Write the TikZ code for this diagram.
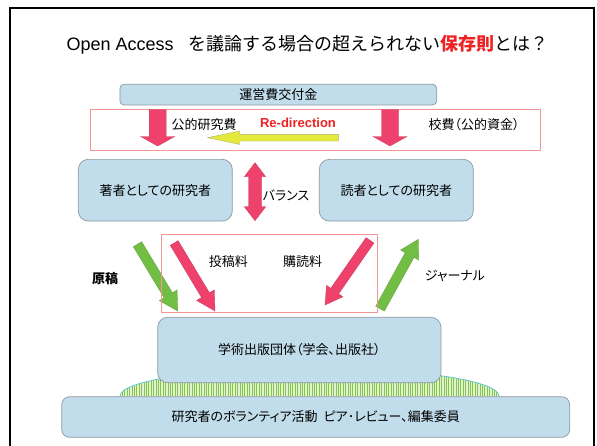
\documentclass[tikz,border=0pt]{standalone}
\usepackage{fontspec}
\setmainfont{Liberation Sans}
\newfontfamily\jp[RawFeature=+palt]{Noto Sans CJK JP}
\newfontfamily\jpm{Noto Sans CJK JP}
\usetikzlibrary{calc}
\definecolor{boxblue}{RGB}{193,220,234}
\definecolor{boxedge}{RGB}{140,152,162}
\definecolor{pinkedge}{RGB}{245,150,150}
\definecolor{arrowred}{RGB}{238,65,108}
\definecolor{arrowgreen}{RGB}{114,190,68}
\definecolor{arrowyellow}{RGB}{228,234,60}
\definecolor{yellowedge}{RGB}{175,175,110}
\definecolor{textred}{RGB}{238,34,34}
\definecolor{moundlight}{RGB}{228,242,210}
\definecolor{moundgreen}{RGB}{130,198,78}
\definecolor{moundedge}{RGB}{100,200,210}
\newcommand{\blockarrow}[6]{%
  \coordinate (tmpH) at ($(#3)!#6!(#2)$);
  \path[#1] ($(#2)!#4!90:(#3)$) -- ($(tmpH)!#4!90:(#3)$) -- ($(tmpH)!#5!90:(#3)$) -- (#3)
     -- ($(tmpH)!#5!-90:(#3)$) -- ($(tmpH)!#4!-90:(#3)$) -- ($(#2)!#4!-90:(#3)$) -- cycle;}
\begin{document}
\begin{tikzpicture}[x=1pt,y=-1pt,
  bluebox/.style={draw=boxedge, line width=0.7pt, fill=boxblue, rounded corners=#1, inner sep=0pt},
  bluebox/.default=10pt,
  pinkbox/.style={draw=pinkedge, line width=0.8pt},
  lbl/.style={inner sep=0pt, font=\jp\fontsize{13}{15}\selectfont},
  redarr/.style={fill=arrowred, draw=arrowred!85!black, line width=0.3pt},
  greenarr/.style={fill=arrowgreen, draw=arrowgreen!85!black, line width=0.3pt},
  yellowarr/.style={fill=arrowyellow, draw=yellowedge, line width=0.4pt}]
\useasboundingbox (0,0) rectangle (597,445);
\fill[white] (0,0) rectangle (597,445);
% frame
\draw[line width=2pt] (10,8) rectangle (594,460);
% title
\node[inner sep=0pt] (title) at (307.7,45) {\fontsize{18}{20}\selectfont Open Access\hspace{15pt}{\jpm を議論する場合の超えられない{\bfseries\color{textred}保存則}とは？}};
% mound
\begin{scope}
  \clip (120,396) .. controls (120,380.5) and (205,368) .. (310,368) .. controls (415,368) and (499,380.5) .. (499,396) -- cycle;
  \fill[moundlight] (118,360) rectangle (501,398);
  \foreach \x in {120,122.4,...,500} \draw[moundgreen, line width=0.9pt] (\x,360) -- (\x,398);
\end{scope}
\draw[moundedge, line width=0.8pt] (120,396) .. controls (120,380.5) and (205,368) .. (310,368) .. controls (415,368) and (499,380.5) .. (499,396);
% boxes
\node[bluebox=4pt, minimum width=316.7pt, minimum height=20.7pt] (fund) at (278.3,94.6) {\jp\fontsize{13}{15}\selectfont 運営費交付金};
\node[bluebox, minimum width=154pt, minimum height=61.7pt] (author) at (155.3,190.2) {\jp\fontsize{13}{15}\selectfont 著者としての研究者};
\node[bluebox, minimum width=154pt, minimum height=61.7pt] (reader) at (396.3,190.2) {\jp\fontsize{13}{15}\selectfont 読者としての研究者};
\node[bluebox, minimum width=283.3pt, minimum height=65.4pt] (pub) at (299.3,350) {\jp\fontsize{13}{15}\selectfont 学術出版団体（学会、出版社）};
\node[bluebox=8pt, minimum width=508pt, minimum height=40.6pt] (volunteer) at (315.7,417) {\jp\fontsize{13}{15}\selectfont 研究者のボランティア活動\hspace{6pt}ピア･レビュー、編集委員};
% pink rectangles
\draw[pinkbox] (90.7,109) rectangle (540.7,150.7);
% labels
\node[lbl] (kenkyuhi) at (204,124.3) {公的研究費};
\node[inner sep=0pt, font=\bfseries\fontsize{13}{15}\selectfont, text=textred] (redir) at (298,123.3) {Re-direction};
\node[lbl] (kohi) at (474,124.3) {校費（公的資金）};
\node[lbl] (balance) at (286,195) {バランス};
\node[lbl] (toko) at (228.3,261.7) {投稿料};
\node[lbl] (kodoku) at (302.7,261.7) {購読料};
\node[lbl, font=\jp\bfseries\fontsize{13}{15}\selectfont] (genko) at (105,278.3) {原稿};
\node[lbl] (journal) at (455,276) {ジャーナル};
% arrow end points
\coordinate (rL-t) at (157.7,109.5);  \coordinate (rL-h) at (157.7,146);
\coordinate (rR-t) at (390,109.5);    \coordinate (rR-h) at (390,146);
\coordinate (yl-t) at (338.3,137.7);  \coordinate (yl-h) at (207.7,137.7);
\coordinate (gL-t) at (137.5,244.2);  \coordinate (gL-h) at (177.7,311);
\coordinate (pL-t) at (174.2,243);    \coordinate (pL-h) at (215,311);
\coordinate (pR-t) at (370,240.3);    \coordinate (pR-h) at (325,305);
\coordinate (gR-t) at (380,308.7);    \coordinate (gR-h) at (418.3,239.3);
\coordinate (bal-t) at (255,162.7);   \coordinate (bal-b) at (255,220.7);
% arrows
\blockarrow{redarr}{rL-t}{rL-h}{8.5pt}{17pt}{9.5pt}
\blockarrow{redarr}{rR-t}{rR-h}{8.5pt}{17pt}{9.5pt}
\blockarrow{yellowarr}{yl-t}{yl-h}{3.3pt}{6.7pt}{32pt}
\blockarrow{greenarr}{gL-t}{gL-h}{4.9pt}{10.4pt}{18.4pt}
\blockarrow{redarr}{pL-t}{pL-h}{4.6pt}{10.3pt}{18.5pt}
\blockarrow{redarr}{pR-t}{pR-h}{4.8pt}{10pt}{17pt}
\blockarrow{greenarr}{gR-t}{gR-h}{5pt}{10.4pt}{18pt}
\path[redarr] (bal-t) -- ($(bal-t)+(10.7,14)$) -- ($(bal-t)+(6.5,14)$) -- ($(bal-b)+(6.5,-14)$) -- ($(bal-b)+(10.7,-14)$)
  -- (bal-b) -- ($(bal-b)+(-10.7,-14)$) -- ($(bal-b)+(-6.5,-14)$) -- ($(bal-t)+(-6.5,14)$) -- ($(bal-t)+(-10.7,14)$) -- cycle;
\draw[pinkbox] (161.7,234) rectangle (377.7,312.7);
\end{tikzpicture}
\end{document}
